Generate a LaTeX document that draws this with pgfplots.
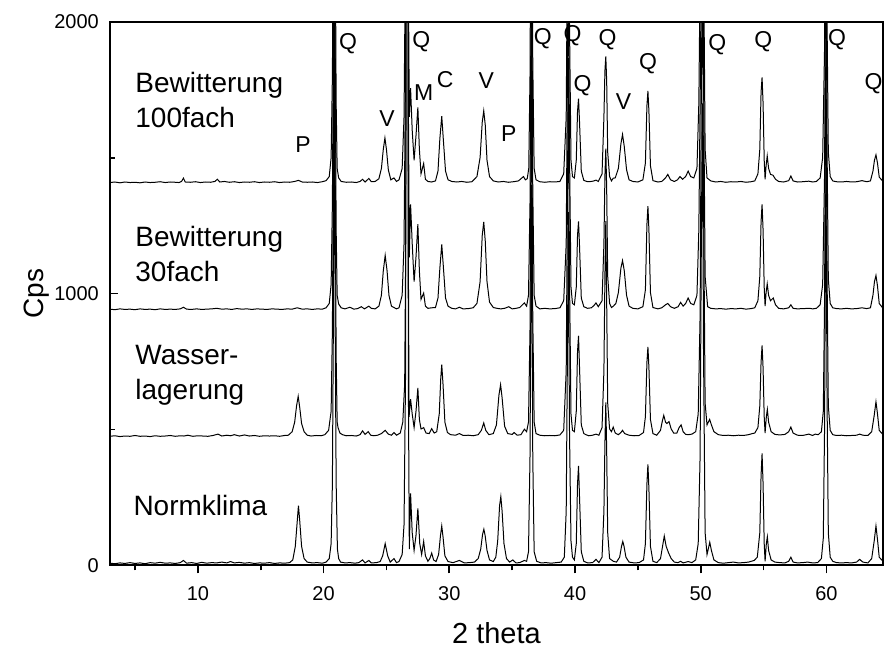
\documentclass[border=0pt]{standalone}
\usepackage{pgfplots}
\pgfplotsset{compat=1.18}
\usepackage{fontspec}
\setmainfont{Liberation Sans}

\pgfplotsset{trace/.style={black, line width=0.5pt, mark=none}}

\begin{document}
\begin{tikzpicture}
\begin{axis}[
  name=ax,
  scale only axis,
  width=387pt, height=272pt,
  xmin=3, xmax=64.5,
  ymin=0, ymax=2000,
  xtick={10,20,30,40,50,60},
  minor xtick={5,15,25,35,45,55},
  ytick={0,1000,2000},
  minor ytick={500,1500},
  xtick pos=bottom, ytick pos=left,
  xtick align=outside, ytick align=inside,
  major tick length=4pt, minor tick length=2.5pt,
  every tick/.style={black, line width=0.8pt},
  axis line style={line width=1pt},
  tick label style={font=\fontsize{10}{12}\selectfont},
  /pgf/number format/assume math mode=true,
  scaled y ticks=false,
  xticklabel style={yshift=-3pt},
  yticklabel style={/pgf/number format/1000 sep={}, xshift=-2pt},
  xlabel={2 theta}, ylabel={Cps},
  xlabel style={font=\fontsize{14.5}{16}\selectfont, at={(axis description cs:0.5,0)}, anchor=center, yshift=-34pt},
  ylabel style={font=\fontsize{14}{16}\selectfont, at={(axis description cs:-0.0943,0.5)}, anchor=center},
  clip=true,
]

% Normklima (no offset)
\addplot[trace] coordinates {
(3.0,8) (3.4,6) (3.8,9) (4.2,7) (4.6,10) (5.0,7) (5.4,9) (5.8,6) (6.2,10) (6.6,8) (7.0,11) (7.4,8) (7.8,9) (8.2,7) (8.6,10) (8.85,18) (9.1,8) (9.5,10) (9.9,7) (10.3,11) (10.7,8) (11.1,10) (11.5,9) (11.9,12) (12.3,9) (12.6,14) (12.9,9) (13.3,11) (13.7,8) (14.1,10) (14.5,7) (14.9,9) (15.3,8) (15.7,10) (16.1,7) (16.5,9) (16.9,8) (17.3,10)
(17.55,20) (17.75,70) (17.9,160) (18.0,220) (18.1,165) (18.25,70) (18.45,25) (18.7,12) (19.1,9) (19.5,10) (19.9,8) (20.2,12)
(20.45,25) (20.6,80) (20.7,300) (20.78,900) (20.85,2300) (20.92,900) (21.0,300) (21.1,60) (21.2,25) (21.35,12) (21.7,9) (22.1,10) (22.5,8) (22.8,10) (23.1,20) (23.3,9) (23.6,18) (23.8,9) (24.2,10)
(24.5,14) (24.7,35) (24.9,80) (25.1,35) (25.3,12) (25.6,25) (25.8,10) (26.0,14) (26.25,40) (26.4,150) (26.52,700) (26.64,6000) (26.74,700) (26.82,60)
(26.92,265) (27.05,120) (27.2,55) (27.35,110) (27.5,210) (27.65,80) (27.8,40) (27.96,88) (28.1,35) (28.3,15) (28.45,25) (28.6,45) (28.75,20) (28.95,14)
(29.15,40) (29.3,110) (29.4,145) (29.5,105) (29.65,35) (29.9,14) (30.3,10) (30.8,18) (31.2,9) (31.6,10) (32.0,12)
(32.3,25) (32.5,60) (32.65,115) (32.75,133) (32.85,110) (33.0,55) (33.2,20) (33.5,14) (33.7,30) (33.85,90) (34.0,220) (34.1,253) (34.2,200) (34.35,80) (34.55,25) (34.8,12) (35.05,20) (35.3,9) (35.6,10) (35.97,18) (36.15,15)
(36.3,50) (36.42,400) (36.54,1400) (36.64,400) (36.75,50) (36.95,15) (37.3,9) (37.7,10) (38.1,8) (38.5,10) (38.9,12)
(39.15,30) (39.3,200) (39.4,800) (39.47,1300) (39.56,500) (39.68,90) (39.8,30) (39.95,20) (40.1,80) (40.2,300) (40.28,366) (40.36,250) (40.5,50) (40.7,15) (41.0,9) (41.4,10) (41.67,22) (41.9,10)
(42.15,30) (42.3,200) (42.38,450) (42.45,600) (42.52,420) (42.6,120) (42.75,25) (43.05,15) (43.3,12) (43.55,30) (43.7,70) (43.8,88) (43.9,70) (44.05,30) (44.3,12) (44.7,9) (45.1,10)
(45.45,20) (45.6,80) (45.72,300) (45.8,372) (45.88,280) (46.0,70) (46.2,15) (46.5,10) (46.8,25) (47.0,80) (47.1,108) (47.25,70) (47.45,45) (47.65,25) (47.9,12) (48.2,10) (48.4,15) (48.6,9) (49.0,14) (49.3,10)
(49.6,20) (49.8,80) (49.95,400) (50.05,1200) (50.14,1700) (50.22,800) (50.35,120) (50.5,40) (50.6,60) (50.72,85) (50.85,55) (51.05,20) (51.4,10) (51.8,8) (52.2,10) (52.6,12) (53.0,9) (53.4,10) (53.8,12) (54.25,18)
(54.5,30) (54.7,120) (54.8,330) (54.88,412) (54.96,300) (55.05,80) (55.12,15) (55.22,80) (55.3,105) (55.4,55) (55.6,20) (55.9,12) (56.3,10) (56.7,9) (57.0,15) (57.17,30) (57.35,12) (57.7,9) (58.1,10) (58.5,12) (58.9,9) (59.3,10)
(59.6,25) (59.75,100) (59.85,500) (59.96,1500) (60.05,600) (60.15,120) (60.3,30) (60.5,15) (60.8,10) (61.2,9) (61.6,10) (62.0,9) (62.4,12) (62.64,22) (62.9,12) (63.3,9)
(63.6,25) (63.8,90) (63.94,145) (64.05,100) (64.2,30) (64.5,15)
};

% Wasserlagerung (stacked at +467)
\addplot[trace, y filter/.expression={y+467}] coordinates {
(3.0,8) (3.4,10) (3.8,7) (4.2,9) (4.6,8) (5.0,11) (5.4,8) (5.8,9) (6.2,7) (6.6,10) (7.0,8) (7.4,9) (7.8,11) (8.2,8) (8.6,10) (8.9,9) (9.2,12) (9.6,8) (10.0,10) (10.4,9) (10.8,8) (11.2,11) (11.6,16) (11.9,9) (12.3,12) (12.6,10) (12.9,14) (13.3,9) (13.7,13) (14.1,9) (14.5,11) (14.9,8) (15.3,10) (15.7,9) (16.1,10) (16.5,8) (16.9,11) (17.2,12)
(17.5,25) (17.7,60) (17.85,120) (17.98,155) (18.1,115) (18.25,55) (18.45,25) (18.7,12) (19.0,9) (19.4,11) (19.8,10) (20.1,14)
(20.4,30) (20.6,100) (20.7,400) (20.78,1000) (20.85,2200) (20.92,1000) (21.0,300) (21.08,60) (21.15,40) (21.3,20) (21.5,14) (21.8,10) (22.2,11) (22.6,9) (22.9,14) (23.1,28) (23.3,15) (23.55,25) (23.75,12) (24.0,10) (24.3,12)
(24.6,18) (24.9,30) (25.15,16) (25.4,12) (25.6,22) (25.8,12) (26.1,20) (26.3,60) (26.45,200) (26.55,800) (26.64,6000) (26.74,700) (26.8,80)
(26.92,145) (27.05,90) (27.2,40) (27.35,100) (27.5,186) (27.62,70) (27.75,35) (27.96,40) (28.15,20) (28.4,18) (28.6,36) (28.8,20) (29.0,25)
(29.2,90) (29.32,220) (29.4,272) (29.5,200) (29.65,60) (29.85,22) (30.1,14) (30.5,12) (30.8,18) (31.1,11) (31.5,12) (31.9,10) (32.3,14)
(32.55,30) (32.74,57) (32.9,30) (33.15,14) (33.5,18) (33.75,50) (33.95,160) (34.08,198) (34.2,150) (34.4,45) (34.65,18) (35.0,15) (35.15,22) (35.4,12) (35.7,14) (35.97,34) (36.15,25)
(36.3,60) (36.42,400) (36.54,1500) (36.64,450) (36.75,60) (36.9,18) (37.2,12) (37.6,10) (38.0,11) (38.4,10) (38.8,13)
(39.1,30) (39.3,250) (39.4,900) (39.47,1400) (39.56,600) (39.68,90) (39.8,30) (39.95,25) (40.1,100) (40.2,320) (40.28,378) (40.36,260) (40.5,50) (40.7,18) (40.87,14) (41.1,10) (41.4,12) (41.67,16) (41.9,12)
(42.15,40) (42.3,250) (42.38,600) (42.45,800) (42.52,500) (42.6,130) (42.75,35) (42.9,25) (43.04,42) (43.2,20) (43.45,14) (43.65,22) (43.78,30) (43.95,18) (44.3,12) (44.7,10) (45.1,11)
(45.45,22) (45.6,80) (45.72,280) (45.8,337) (45.88,260) (46.0,70) (46.2,18) (46.5,12) (46.8,30) (46.95,65) (47.06,85) (47.2,60) (47.3,55) (47.48,62) (47.65,35) (47.85,20) (48.1,20) (48.28,40) (48.44,50) (48.6,25) (48.8,15) (49.02,14) (49.3,16)
(49.6,25) (49.8,90) (49.95,450) (50.05,1300) (50.14,1800) (50.22,900) (50.35,130) (50.5,50) (50.6,60) (50.71,70) (50.85,50) (51.05,25) (51.4,14) (51.8,11) (52.2,12) (52.6,10) (53.0,12) (53.4,11) (53.8,14) (54.1,18) (54.3,20)
(54.55,40) (54.7,120) (54.8,280) (54.88,343) (54.96,260) (55.05,80) (55.12,20) (55.22,80) (55.3,107) (55.4,60) (55.6,25) (55.9,15) (56.3,13) (56.7,15) (57.0,25) (57.17,42) (57.35,20) (57.7,12) (58.1,11) (58.6,16) (58.9,11) (59.1,16) (59.35,14)
(59.6,25) (59.75,100) (59.85,500) (59.96,1500) (60.05,600) (60.15,120) (60.3,30) (60.5,14) (60.8,11) (61.2,12) (61.6,10) (62.0,11) (62.4,12) (62.64,16) (62.9,12) (63.3,11)
(63.6,25) (63.8,85) (63.94,135) (64.05,95) (64.2,30) (64.5,14)
};

% Bewitterung 30fach (stacked at +934)
\addplot[trace, y filter/.expression={y+934}] coordinates {
(3.0,9) (3.4,7) (3.8,10) (4.2,8) (4.6,9) (5.0,7) (5.4,10) (5.8,8) (6.2,9) (6.6,7) (7.0,10) (7.4,8) (7.8,9) (8.2,8) (8.6,10) (8.85,16) (9.1,9) (9.5,8) (9.9,10) (10.3,8) (10.7,9) (11.1,10) (11.5,12) (11.9,9) (12.3,10) (12.7,8) (13.1,11) (13.5,9) (13.9,10) (14.3,8) (14.7,10) (15.1,9) (15.5,8) (15.9,10) (16.3,9) (16.7,8) (17.1,10) (17.5,9) (17.9,14) (18.3,9) (18.7,10) (19.1,8) (19.5,10) (19.9,9) (20.2,14)
(20.45,30) (20.6,100) (20.7,400) (20.78,1000) (20.85,2000) (20.92,1000) (21.0,300) (21.08,60) (21.2,28) (21.4,14) (21.7,10) (22.09,16) (22.4,9) (22.7,11) (23.0,18) (23.25,10) (23.6,20) (23.8,12) (24.1,10)
(24.4,20) (24.6,60) (24.75,150) (24.9,207) (25.05,150) (25.2,60) (25.4,20) (25.6,15) (25.8,10) (26.0,14) (26.25,60) (26.4,250) (26.52,900) (26.64,6000) (26.74,800)
(26.82,200) (26.92,395) (27.05,250) (27.2,110) (27.35,200) (27.5,322) (27.62,150) (27.75,45) (27.96,68) (28.1,20) (28.3,12) (28.6,14) (28.9,15)
(29.1,50) (29.25,160) (29.4,247) (29.52,170) (29.7,50) (29.9,20) (30.2,12) (30.5,10) (30.8,16) (31.1,10) (31.5,11) (31.9,14)
(32.2,30) (32.45,110) (32.62,280) (32.74,330) (32.86,260) (33.0,110) (33.2,35) (33.5,15) (33.8,12) (34.1,10) (34.4,12) (34.73,18) (35.0,10) (35.3,12) (35.6,15) (35.97,32) (36.15,20)
(36.3,60) (36.42,400) (36.54,1500) (36.64,450) (36.75,60) (36.9,20) (37.2,10) (37.6,12) (38.0,10) (38.4,11) (38.8,14)
(39.1,40) (39.3,250) (39.4,900) (39.47,1400) (39.56,600) (39.68,90) (39.8,30) (39.95,25) (40.1,90) (40.2,280) (40.28,332) (40.36,240) (40.5,50) (40.7,18) (41.0,12) (41.3,14) (41.5,22) (41.67,32) (41.85,18)
(42.15,40) (42.3,250) (42.38,500) (42.45,600) (42.52,450) (42.6,130) (42.75,30) (42.9,15) (43.05,20) (43.25,30) (43.45,70) (43.65,160) (43.78,188) (43.92,150) (44.1,60) (44.3,20) (44.6,12) (45.0,10)
(45.4,18) (45.6,80) (45.72,320) (45.8,388) (45.88,300) (46.0,70) (46.2,15) (46.6,10) (46.9,14) (47.2,25) (47.38,30) (47.6,18) (47.9,12) (48.2,18) (48.4,34) (48.6,20) (48.8,30) (49.0,50) (49.2,30) (49.45,25)
(49.7,60) (49.85,300) (49.98,900) (50.08,1500) (50.14,1800) (50.22,900) (50.35,130) (50.55,18) (50.8,12) (51.2,10) (51.6,11) (52.0,9) (52.4,11) (52.8,10) (53.2,12) (53.6,9) (54.0,11) (54.3,14)
(54.55,40) (54.7,130) (54.8,330) (54.88,395) (54.96,300) (55.05,90) (55.12,20) (55.2,70) (55.29,102) (55.4,60) (55.55,40) (55.77,50) (55.95,25) (56.2,12) (56.6,10) (57.0,14) (57.17,25) (57.35,12) (57.7,10) (58.1,11) (58.67,12) (58.9,10) (59.2,12)
(59.5,25) (59.7,100) (59.85,500) (59.96,1500) (60.05,600) (60.15,120) (60.3,30) (60.5,14) (60.8,11) (61.2,10) (61.6,12) (62.0,10) (62.4,11) (62.83,14) (63.2,11)
(63.5,14) (63.7,60) (63.82,110) (63.94,133) (64.06,95) (64.2,30) (64.5,12)
};

% Bewitterung 100fach (stacked at +1401)
\addplot[trace, y filter/.expression={y+1401}] coordinates {
(3.0,8) (3.4,10) (3.8,7) (4.2,10) (4.6,8) (5.0,9) (5.4,7) (5.8,10) (6.2,8) (6.6,9) (7.0,11) (7.4,8) (7.8,10) (8.2,9) (8.5,8) (8.7,12) (8.85,24) (9.0,10) (9.4,9) (9.8,11) (10.2,8) (10.6,10) (11.0,9) (11.35,12) (11.55,20) (11.75,10) (12.1,12) (12.5,9) (12.9,11) (13.3,8) (13.7,10) (14.1,9) (14.5,11) (14.9,8) (15.3,10) (15.7,9) (16.1,11) (16.5,8) (16.9,10) (17.3,9) (17.7,12) (18.0,16) (18.3,10) (18.7,9) (19.1,10) (19.5,8) (19.9,11) (20.2,15)
(20.45,30) (20.6,100) (20.7,400) (20.78,1000) (20.85,2000) (20.92,1000) (21.0,300) (21.08,60) (21.2,25) (21.4,12) (21.8,9) (22.2,10) (22.6,8) (22.9,12) (23.1,20) (23.3,10) (23.6,23) (23.8,11) (24.1,12)
(24.4,22) (24.6,60) (24.75,130) (24.88,172) (25.0,130) (25.15,55) (25.35,18) (25.6,25) (25.8,12) (26.0,18) (26.25,60) (26.4,250) (26.52,900) (26.64,6000) (26.74,800)
(26.82,250) (26.92,355) (27.05,200) (27.2,90) (27.35,180) (27.5,285) (27.62,130) (27.75,40) (27.96,78) (28.1,20) (28.3,12) (28.6,10) (28.9,14)
(29.1,50) (29.25,170) (29.4,252) (29.52,170) (29.7,50) (29.9,18) (30.2,12) (30.6,10) (31.0,12) (31.4,9) (31.8,11)
(32.2,30) (32.45,100) (32.62,230) (32.74,272) (32.86,220) (33.0,90) (33.2,30) (33.5,14) (33.9,10) (34.3,12) (34.7,9) (35.1,11) (35.5,14) (35.9,30) (36.05,18) (36.2,22)
(36.32,60) (36.42,400) (36.54,1500) (36.64,450) (36.75,60) (36.9,18) (37.2,11) (37.6,9) (38.0,11) (38.4,10) (38.8,12)
(39.1,40) (39.3,250) (39.4,900) (39.47,1400) (39.56,600) (39.68,90) (39.8,30) (39.95,25) (40.1,90) (40.2,270) (40.28,317) (40.36,230) (40.5,50) (40.7,16) (41.0,11) (41.3,12) (41.5,14) (41.67,17) (41.85,12)
(42.15,40) (42.3,250) (42.38,420) (42.45,472) (42.52,380) (42.6,120) (42.75,30) (42.9,14) (43.04,24) (43.2,25) (43.45,60) (43.65,150) (43.78,185) (43.92,140) (44.1,55) (44.3,18) (44.6,12) (45.0,10)
(45.4,18) (45.6,80) (45.72,290) (45.8,345) (45.88,270) (46.0,70) (46.2,15) (46.6,10) (46.9,12) (47.2,25) (47.38,38) (47.6,18) (47.9,12) (48.15,18) (48.35,30) (48.55,20) (48.8,30) (49.0,50) (49.2,30) (49.45,25)
(49.7,60) (49.85,300) (49.98,900) (50.08,1500) (50.14,1800) (50.22,900) (50.35,130) (50.5,25) (50.8,14) (51.2,10) (51.6,12) (52.0,9) (52.4,11) (52.8,10) (53.2,12) (53.6,9) (54.0,11) (54.3,14)
(54.55,40) (54.7,130) (54.8,340) (54.88,395) (54.96,300) (55.05,90) (55.12,20) (55.2,70) (55.29,106) (55.4,60) (55.55,38) (55.75,35) (55.95,20) (56.2,12) (56.6,10) (57.0,15) (57.17,32) (57.35,14) (57.7,10) (58.1,11) (58.6,13) (58.9,10) (59.2,12)
(59.5,25) (59.7,100) (59.85,500) (59.96,1500) (60.05,600) (60.15,120) (60.3,30) (60.5,14) (60.8,11) (61.2,10) (61.6,12) (62.0,10) (62.4,11) (62.83,15) (63.2,11)
(63.5,14) (63.7,50) (63.82,90) (63.94,110) (64.06,80) (64.2,28) (64.5,12)
};

% sample names
\begin{scope}[every node/.style={font=\fontsize{14}{16}\selectfont, anchor=base west, inner sep=0pt}]
\node at (axis cs:5.0,1739) {Bewitterung};
\node at (axis cs:5.0,1610) {100fach};
\node at (axis cs:5.0,1173) {Bewitterung};
\node at (axis cs:5.0,1044) {30fach};
\node at (axis cs:5.0,739) {Wasser-};
\node at (axis cs:5.0,610) {lagerung};
\node at (axis cs:4.85,184) {Normklima};
\end{scope}

% phase markers
\begin{scope}[every node/.style={font=\fontsize{11.5}{13}\selectfont, anchor=center, inner sep=0pt}]
\node at (axis cs:18.37,1548) {P};
\node at (axis cs:21.95,1921) {Q};
\node at (axis cs:25.05,1646) {V};
\node at (axis cs:27.78,1927) {Q};
\node at (axis cs:27.96,1740) {M};
\node at (axis cs:29.68,1789) {C};
\node at (axis cs:32.94,1784) {V};
\node at (axis cs:34.73,1590) {P};
\node at (axis cs:37.43,1940) {Q};
\node at (axis cs:39.81,1951) {Q};
\node at (axis cs:40.6,1764) {Q};
\node at (axis cs:42.59,1934) {Q};
\node at (axis cs:43.86,1707) {V};
\node at (axis cs:45.82,1848) {Q};
\node at (axis cs:51.32,1915) {Q};
\node at (axis cs:54.97,1927) {Q};
\node at (axis cs:60.84,1934) {Q};
\node at (axis cs:63.75,1774) {Q};
\end{scope}
\end{axis}
% page margins around the axis box
\path (ax.south west) ++(-55pt,-40pt);
\path (ax.north east) ++(0pt,11pt);
\end{tikzpicture}
\end{document}
